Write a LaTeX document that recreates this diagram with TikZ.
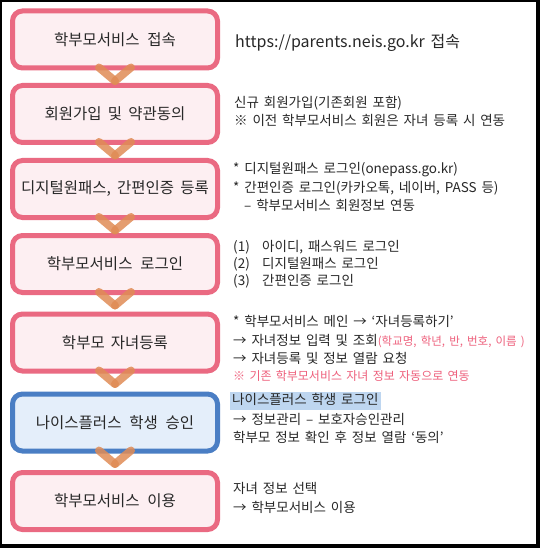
\documentclass[tikz,border=0pt]{standalone}
\usepackage{fontspec}
\setmainfont[WordSpace=1.6]{Noto Sans CJK KR}
\usetikzlibrary{calc}
\definecolor{boxpink}{RGB}{234,106,130}
\definecolor{boxfill}{RGB}{253,239,242}
\definecolor{boxblue}{RGB}{74,126,196}
\definecolor{bluefill}{RGB}{228,238,250}
\definecolor{chevc}{RGB}{224,140,86}
\definecolor{txt}{RGB}{40,40,40}
\definecolor{pinktxt}{RGB}{238,96,124}
\definecolor{hlblue}{RGB}{190,214,240}
\begin{document}
\begin{tikzpicture}[x=1pt,y=-1pt,
  stepbox/.style={draw=boxpink, fill=boxfill, line width=5pt, rounded corners=10pt,
    minimum width=205pt, minimum height=57pt, inner sep=0pt,
    font=\fontsize{15.5}{18}\selectfont, text=txt},
  bluebox/.style={stepbox, draw=boxblue, fill=bluefill},
  desc/.style={anchor=west, inner sep=0pt, font=\fontsize{13.5}{16}\selectfont, text=txt,
    text height=10pt, text depth=3pt},
  chev/.style={draw=chevc, line width=8pt, line cap=round, draw opacity=0.85}]
\fill[black] (0,0) rectangle (540,548);
\fill[white] (2,2) rectangle (536,544);
\useasboundingbox (0,0) rectangle (540,548);
% boxes
\node[stepbox] (b1) at (115,39.5) {학부모서비스\hspace{0.5em}접속};
\node[stepbox] (b2) at (115,114) {회원가입\hspace{0.4em}및\hspace{0.4em}약관동의};
\node[stepbox] (b3) at (115,189) {디지털원패스,\hspace{0.4em}간편인증\hspace{0.4em}등록};
\node[stepbox] (b4) at (115,264) {학부모서비스\hspace{0.5em}로그인};
\node[stepbox] (b5) at (115,342.5) {학부모\hspace{0.4em}자녀등록};
\node[bluebox] (b6) at (115,422.5) {나이스플러스\hspace{0.5em}학생\hspace{0.5em}승인};
\node[stepbox] (b7) at (115,501) {학부모서비스\hspace{0.5em}이용};
% chevrons
\foreach \a/\b in {b1/b2,b2/b3,b3/b4,b4/b5,b5/b6,b6/b7}{
  \coordinate (V) at ($(\a.south)+(0,10.5)$);
  \draw[chev] ($(\a.south)+(-16,-3)$) -- (V);
  \draw[chev] ($(\a.south)+(16,-3)$) -- (V);
}
% descriptions
\node[desc, font=\fontsize{16}{18}\selectfont] (t1) at (235,44) {https://parents.neis.go.kr 접속};
\node[desc] (t2a) at (234,104) {신규 회원가입(기존회원 포함)};
\node[desc] (t2b) at (234,122) {※ 이전 학부모서비스 회원은 자녀 등록 시 연동};
\node[desc] (t3a) at (233,170) {* 디지털원패스 로그인(onepass.go.kr)};
\node[desc] (t3b) at (233,189) {* 간편인증 로그인(카카오톡, 네이버, PASS 등)};
\node[desc] (t3c) at (244,207) {– 학부모서비스 회원정보 연동};
\node[desc] (t4a) at (233,248) {(1)};
\node[desc] (t4a2) at (262,248) {아이디, 패스워드 로그인};
\node[desc] (t4b) at (233,265) {(2)};
\node[desc] (t4b2) at (262,265) {디지털원패스 로그인};
\node[desc] (t4c) at (233,282) {(3)};
\node[desc] (t4c2) at (262,282) {간편인증 로그인};
\node[desc] (t5a) at (233,323) {* 학부모서비스 메인 → ‘자녀등록하기’};
\node[desc] (t5b) at (233,342) {→ 자녀정보 입력 및 조회{\color{pinktxt}\fontsize{11.5}{14}\selectfont(학교명, 학년, 반, 번호, 이름 )}};
\node[desc] (t5c) at (233,360) {→ 자녀등록 및 정보 열람 요청};
\node[desc, text=pinktxt, font=\fontsize{12}{14}\selectfont] (t5d) at (233,377) {※ 기존 학부모서비스 자녀 정보 자동으로 연동};
\node[desc, fill=hlblue, inner xsep=2pt, inner ysep=2.5pt] (t6a) at (230,401) {나이스플러스 학생 로그인};
\node[desc] (t6b) at (233,421) {→ 정보관리 – 보호자승인관리};
\node[desc] (t6c) at (233,439) {학부모 정보 확인 후 정보 열람 ‘동의’};
\node[desc] (t7a) at (233,490) {자녀 정보 선택};
\node[desc] (t7b) at (233,509) {→ 학부모서비스 이용};
\end{tikzpicture}
\end{document}
